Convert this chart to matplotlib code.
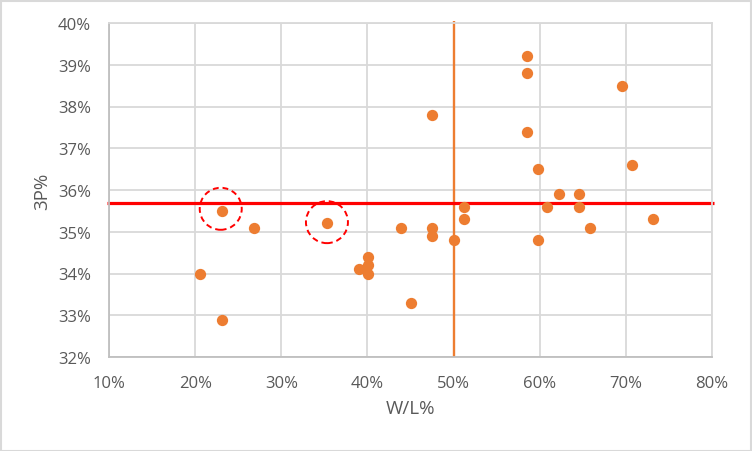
import matplotlib
matplotlib.use("Agg")
import matplotlib.pyplot as plt
from matplotlib.patches import Rectangle, Ellipse
from matplotlib.ticker import FuncFormatter

wl = [23.1, 26.8, 20.6, 23.1, 35.3, 39.0, 40.1, 40.1, 40.1, 43.9, 45.1,
      47.5, 47.5, 47.5, 50.05, 51.2, 51.2, 58.5, 58.5, 58.5, 59.8, 59.8,
      60.9, 62.2, 64.6, 64.6, 65.8, 69.5, 70.7, 73.1]
tp = [35.5, 35.08, 34.0, 32.88, 35.2, 34.1, 34.4, 34.2, 34.0, 35.08, 33.3,
      37.8, 35.08, 34.9, 34.8, 35.6, 35.31, 39.21, 38.81, 37.4, 36.5, 34.8,
      35.59, 35.91, 35.9, 35.6, 35.08, 38.49, 36.6, 35.3]
avg_tp = 35.68
avg_wl = 50.0
highlight = [(22.97, 35.55), (35.3, 35.23)]

x_ticks = [10, 20, 30, 40, 50, 60, 70, 80]
y_ticks = [32, 33, 34, 35, 36, 37, 38, 39, 40]

fig = plt.figure(figsize=(7.52, 4.52), dpi=100)
ax = fig.add_axes([109/752, 1-358/452, (712-109)/752, (358-24)/452])

ax.set_xlim(10, 80)
ax.set_ylim(32, 40)
ax.set_xticks(x_ticks)
ax.set_yticks(y_ticks)
fmt = FuncFormatter(lambda v, p: f"{v:.0f}%")
ax.xaxis.set_major_formatter(fmt)
ax.yaxis.set_major_formatter(fmt)
ax.grid(True, color="#D9D9D9", linewidth=1.3, zorder=0)
for s in ["top", "right"]:
    ax.spines[s].set_color("#D9D9D9")
    ax.spines[s].set_linewidth(1.3)
for s in ["left", "bottom"]:
    ax.spines[s].set_color("#BFBFBF")
    ax.spines[s].set_linewidth(1.3)
ax.tick_params(length=0, labelsize=12, labelcolor="#595959")
ax.tick_params(axis="y", pad=13)
ax.tick_params(axis="x", pad=13)
for lab in ax.get_xticklabels() + ax.get_yticklabels():
    lab.set_fontfamily("Open Sans")

ax.plot([avg_wl, avg_wl], [32, 40.05], color="#ED7D31", linewidth=1.7,
        zorder=2, clip_on=False, solid_capstyle="butt")
ax.plot([9.8, 80.2], [avg_tp, avg_tp], color="#FF0000", linewidth=2.3,
        zorder=2, clip_on=False, solid_capstyle="butt")

ax.scatter(wl, tp, s=66, color="#ED7D31", zorder=3, linewidths=0)

for (hx, hy) in highlight:
    w = 42 / 8.614
    h = 42 / 41.75
    e = Ellipse((hx, hy), w, h, fill=False, edgecolor="#FF0000",
                linestyle=(0, (3, 2)), linewidth=1.4, zorder=4)
    ax.add_patch(e)

ax.set_xlabel("W/L%", fontsize=13.5, color="#595959", family="Open Sans", labelpad=6)
ax.set_ylabel("3P%", fontsize=13.5, color="#595959", family="Open Sans", labelpad=5)

fig.patches.append(Rectangle((0.5/752, 0.5/452), 1-2/752, 1-2/452,
                             transform=fig.transFigure, fill=False,
                             edgecolor="#D9D9D9", linewidth=1.5))

fig.savefig("out.png", dpi=100)
